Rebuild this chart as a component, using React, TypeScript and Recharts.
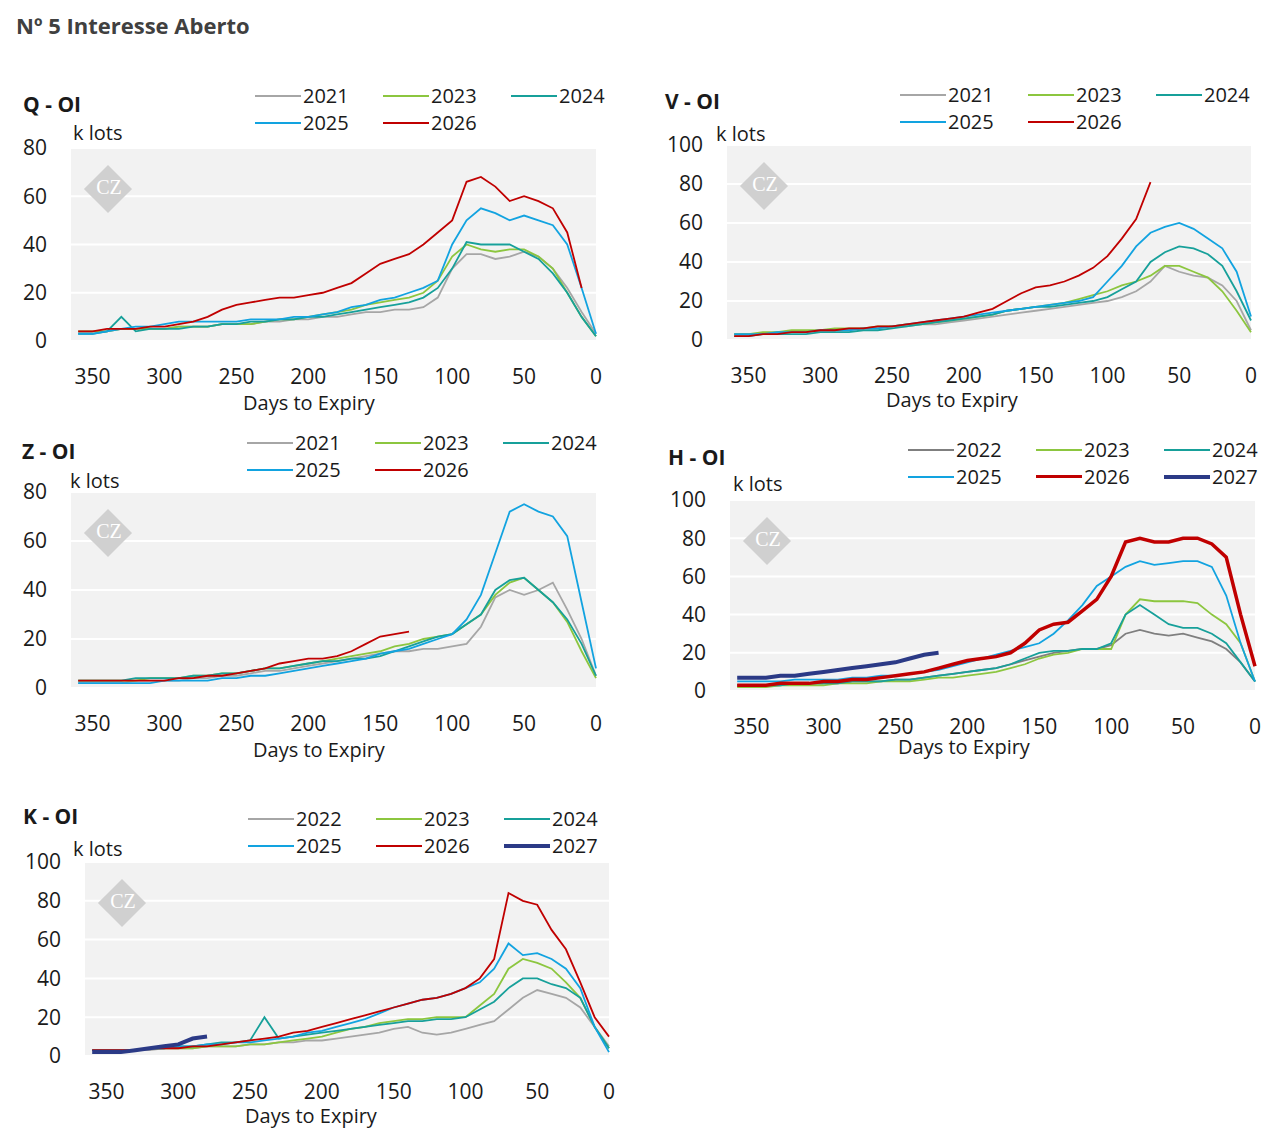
import React from 'react'
import { CartesianGrid, Line, LineChart, XAxis, YAxis } from 'recharts'

// days to expiry, shared by every series (step 10)
const DAYS = [360, 350, 340, 330, 320, 310, 300, 290, 280, 270, 260, 250, 240, 230, 220, 210, 200, 190, 180, 170, 160, 150, 140, 130, 120, 110, 100, 90, 80, 70, 60, 50, 40, 30, 20, 10, 0]
const X_TICKS = [350, 300, 250, 200, 150, 100, 50, 0]

type V = number | null
const _ = null

// Q - OI
const Q21: V[] = [4, 4, 4, 5, 5, 5, 5, 6, 6, 6, 7, 7, 7, 8, 8, 9, 9, 10, 10, 11, 12, 12, 13, 13, 14, 18, 30, 36, 36, 34, 35, 37, 35, 30, 22, 12, 3]
const Q23: V[] = [4, 4, 4, 5, 5, 5, 5, 6, 6, 6, 7, 7, 7, 8, 9, 9, 10, 11, 12, 13, 15, 16, 17, 18, 20, 25, 35, 40, 38, 37, 38, 38, 35, 30, 20, 10, 2]
const Q24: V[] = [3, 3, 4, 10, 4, 5, 5, 5, 6, 6, 7, 7, 8, 8, 9, 9, 10, 10, 11, 12, 13, 14, 15, 16, 18, 22, 30, 41, 40, 40, 40, 37, 34, 28, 20, 10, 2]
const Q25: V[] = [3, 3, 4, 5, 6, 6, 7, 8, 8, 8, 8, 8, 9, 9, 9, 10, 10, 11, 12, 14, 15, 17, 18, 20, 22, 25, 40, 50, 55, 53, 50, 52, 50, 48, 40, 22, 3]
const Q26: V[] = [4, 4, 5, 5, 5, 6, 6, 7, 8, 10, 13, 15, 16, 17, 18, 18, 19, 20, 22, 24, 28, 32, 34, 36, 40, 45, 50, 66, 68, 64, 58, 60, 58, 55, 45, 22, _]

// V - OI
const V21: V[] = [3, 3, 3, 4, 4, 4, 5, 5, 5, 6, 6, 7, 7, 8, 8, 9, 10, 11, 12, 13, 14, 15, 16, 17, 18, 19, 20, 22, 25, 30, 38, 35, 33, 32, 28, 20, 5]
const V23: V[] = [3, 3, 4, 4, 5, 5, 5, 6, 6, 6, 7, 7, 8, 8, 9, 10, 11, 12, 13, 15, 16, 17, 18, 19, 21, 23, 25, 28, 30, 33, 38, 38, 35, 32, 25, 15, 4]
const V24: V[] = [2, 2, 3, 3, 3, 3, 4, 4, 4, 5, 5, 6, 7, 8, 9, 10, 11, 12, 13, 15, 16, 17, 17, 18, 19, 20, 22, 26, 30, 40, 45, 48, 47, 44, 38, 25, 10]
const V25: V[] = [3, 3, 3, 4, 4, 4, 5, 5, 5, 6, 6, 7, 8, 9, 10, 11, 12, 13, 14, 15, 16, 17, 18, 19, 20, 22, 30, 38, 48, 55, 58, 60, 57, 52, 47, 35, 12]
const V26: V[] = [2, 2, 3, 3, 4, 4, 5, 5, 6, 6, 7, 7, 8, 9, 10, 11, 12, 14, 16, 20, 24, 27, 28, 30, 33, 37, 43, 52, 62, 81, _, _, _, _, _, _, _]

// Z - OI
const Z21: V[] = [2, 2, 2, 2, 3, 3, 3, 3, 4, 4, 5, 5, 6, 7, 7, 8, 9, 10, 11, 12, 13, 14, 15, 15, 16, 16, 17, 18, 25, 37, 40, 38, 40, 43, 32, 20, 5]
const Z23: V[] = [3, 3, 3, 3, 3, 4, 4, 4, 5, 5, 6, 6, 7, 8, 8, 9, 10, 11, 12, 13, 14, 15, 17, 18, 20, 21, 22, 26, 30, 38, 43, 45, 40, 35, 27, 15, 4]
const Z24: V[] = [3, 3, 3, 3, 4, 4, 4, 4, 5, 5, 6, 6, 7, 8, 8, 9, 10, 11, 11, 12, 12, 13, 15, 17, 19, 21, 22, 26, 30, 40, 44, 45, 40, 35, 28, 18, 5]
const Z25: V[] = [2, 2, 2, 2, 2, 2, 3, 3, 3, 3, 4, 4, 5, 5, 6, 7, 8, 9, 10, 11, 12, 14, 15, 16, 18, 20, 22, 28, 38, 55, 72, 75, 72, 70, 62, 35, 8]
const Z26: V[] = [3, 3, 3, 3, 3, 3, 3, 4, 4, 5, 5, 6, 7, 8, 10, 11, 12, 12, 13, 15, 18, 21, 22, 23, _, _, _, _, _, _, _, _, _, _, _, _, _]

// H - OI
const H22: V[] = [3, 3, 3, 3, 4, 4, 4, 4, 5, 5, 5, 6, 6, 7, 8, 9, 10, 11, 12, 14, 16, 18, 20, 21, 22, 22, 24, 30, 32, 30, 29, 30, 28, 26, 22, 15, 5]
const H23: V[] = [2, 2, 2, 3, 3, 3, 3, 4, 4, 4, 5, 5, 5, 6, 7, 7, 8, 9, 10, 12, 14, 17, 19, 20, 22, 22, 22, 40, 48, 47, 47, 47, 46, 40, 35, 25, 5]
const H24: V[] = [3, 3, 3, 3, 4, 4, 4, 4, 5, 5, 5, 6, 6, 7, 8, 9, 10, 11, 12, 14, 17, 20, 21, 21, 22, 22, 25, 40, 45, 40, 35, 33, 33, 30, 25, 15, 5]
const H25: V[] = [5, 5, 5, 5, 6, 6, 6, 6, 7, 7, 8, 8, 9, 10, 11, 13, 15, 17, 19, 21, 23, 25, 30, 37, 45, 55, 60, 65, 68, 66, 67, 68, 68, 65, 50, 25, 5]
const H26: V[] = [3, 3, 3, 4, 4, 4, 5, 5, 6, 6, 7, 8, 9, 10, 12, 14, 16, 17, 18, 20, 25, 32, 35, 36, 42, 48, 60, 78, 80, 78, 78, 80, 80, 77, 70, 40, 13]
const H27: V[] = [7, 7, 7, 8, 8, 9, 10, 11, 12, 13, 14, 15, 17, 19, 20, _, _, _, _, _, _, _, _, _, _, _, _, _, _, _, _, _, _, _, _, _, _]

// K - OI
const K22: V[] = [3, 3, 3, 3, 3, 4, 4, 4, 5, 5, 5, 6, 6, 7, 7, 8, 8, 9, 10, 11, 12, 14, 15, 12, 11, 12, 14, 16, 18, 24, 30, 34, 32, 30, 25, 15, 5]
const K23: V[] = [3, 3, 3, 3, 4, 4, 4, 4, 5, 5, 5, 6, 6, 7, 8, 9, 10, 12, 14, 15, 17, 18, 19, 19, 20, 20, 20, 26, 32, 45, 50, 48, 45, 38, 30, 15, 4]
const K24: V[] = [3, 3, 3, 3, 4, 4, 5, 5, 6, 7, 7, 8, 20, 9, 10, 11, 12, 13, 14, 15, 16, 17, 18, 18, 19, 19, 20, 24, 28, 35, 40, 40, 37, 35, 30, 15, 4]
const K25: V[] = [3, 3, 3, 3, 4, 4, 5, 5, 6, 6, 7, 7, 8, 9, 10, 12, 13, 15, 17, 19, 22, 25, 27, 29, 30, 32, 35, 38, 45, 58, 52, 53, 50, 45, 35, 15, 2]
const K26: V[] = [3, 3, 3, 3, 4, 4, 4, 5, 5, 6, 7, 8, 9, 10, 12, 13, 15, 17, 19, 21, 23, 25, 27, 29, 30, 32, 35, 40, 50, 84, 80, 78, 65, 55, 38, 20, 10]
const K27: V[] = [2, 2, 2, 3, 4, 5, 6, 9, 10, _, _, _, _, _, _, _, _, _, _, _, _, _, _, _, _, _, _, _, _, _, _, _, _, _, _, _, _]

const C = {
  gray: '#a6a6a6',
  dgray: '#7f7f7f',
  green: '#8cc63f',
  teal: '#17a09a',
  blue: '#12a3e0',
  red: '#c00000',
  navy: '#2b3a86',
}

type S = { name: string; values: V[]; color: string; width?: number }

const FONT = '"Open Sans", "Noto Sans", sans-serif'
const TXT = '#1a1a1a'

function Legend({ items, x, y }: { items: S[]; x: number; y: number }) {
  return (
    <>
      {items.map((s, i) => (
        <div
          key={s.name}
          style={{
            position: 'absolute',
            left: x + (i % 3) * 128,
            top: y + Math.floor(i / 3) * 27 - 13,
            display: 'flex',
            alignItems: 'center',
            fontSize: 20,
            color: TXT,
          }}
        >
          <div style={{ width: 46, height: s.width ?? 2, background: s.color }} />
          <span style={{ marginLeft: 2 }}>{s.name}</span>
        </div>
      ))}
    </>
  )
}

function Watermark({ x, y }: { x: number; y: number }) {
  return (
    <div style={{ position: 'absolute', left: x - 18, top: y - 18, width: 36, height: 36 }}>
      <div style={{ width: 34, height: 34, background: '#d0d0d0', transform: 'rotate(45deg)' }} />
      <div style={{ position: 'absolute', left: 0, top: 4, width: 36, textAlign: 'center', color: '#fff', fontFamily: 'serif', fontSize: 20 }}>
        CZ
      </div>
    </div>
  )
}

type PanelProps = {
  title: string
  series: S[]
  px: number
  py: number
  pw: number
  ph: number
  yMax: number
  titleX: number
  titleY: number
  kx: number
  ky: number
  lx: number
  ly: number
  dtx: number
  dty: number
}

function Panel(p: PanelProps) {
  const data = DAYS.map((d, i) => {
    const row: Record<string, number | null> = { d }
    p.series.forEach((s) => (row[s.name] = s.values[i]))
    return row
  })
  const yTicks = []
  for (let v = 0; v <= p.yMax; v += 20) yTicks.push(v)
  const YW = 75
  const TOP = 20
  return (
    <>
      <div style={{ position: 'absolute', left: p.titleX, top: p.titleY - 14, fontSize: 21, fontWeight: 700, color: TXT }}>{p.title}</div>
      <div style={{ position: 'absolute', left: p.kx, top: p.ky - 14, fontSize: 20, color: TXT }}>k lots</div>
      <Legend items={p.series} x={p.lx} y={p.ly} />
      <div style={{ position: 'absolute', left: p.px - YW, top: p.py - TOP }}>
        <LineChart width={p.pw + YW + 10} height={p.ph + TOP + 50} data={data} margin={{ top: TOP, right: 10, left: 0, bottom: 0 }}>
          <CartesianGrid vertical={false} stroke="#ffffff" strokeWidth={2} fill="#f2f2f2" />
          <XAxis
            dataKey="d"
            type="number"
            domain={[0, 365]}
            reversed
            ticks={X_TICKS}
            axisLine={false}
            tickLine={false}
            tickMargin={22}
            height={50}
            interval={0}
            tick={{ fontSize: 21, fill: TXT, fontFamily: FONT }}
          />
          <YAxis
            domain={[0, p.yMax]}
            ticks={yTicks}
            axisLine={false}
            tickLine={false}
            tickSize={0}
            tickMargin={24}
            width={YW}
            interval={0}
            tick={{ fontSize: 21, fill: TXT, fontFamily: FONT }}
          />
          {p.series.map((s) => (
            <Line
              key={s.name}
              dataKey={s.name}
              stroke={s.color}
              strokeWidth={s.width ?? 1.8}
              dot={false}
              isAnimationActive={false}
              type="linear"
            />
          ))}
        </LineChart>
      </div>
      <Watermark x={p.px + 38} y={p.py + 42} />
      <div style={{ position: 'absolute', left: p.dtx - 150, width: 300, top: p.dty - 14, textAlign: 'center', fontSize: 20, color: TXT }}>
        Days to Expiry
      </div>
    </>
  )
}

export default function App() {
  return (
    <div style={{ position: 'relative', width: 1274, height: 1147, fontFamily: FONT, background: '#fff', margin: -8 }}>
      <div style={{ position: 'absolute', left: 16, top: 10, fontSize: 22, fontWeight: 700, color: '#404040' }}>Nº 5 Interesse Aberto</div>
      <Panel
        title="Q - OI"
        series={[
          { name: '2021', values: Q21, color: C.gray },
          { name: '2023', values: Q23, color: C.green },
          { name: '2024', values: Q24, color: C.teal },
          { name: '2025', values: Q25, color: C.blue },
          { name: '2026', values: Q26, color: C.red },
        ]}
        px={71} py={148} pw={525} ph={193} yMax={80}
        titleX={23} titleY={104} kx={73} ky={133} lx={255} ly={95} dtx={309} dty={403}
      />
      <Panel
        title="V - OI"
        series={[
          { name: '2021', values: V21, color: C.gray },
          { name: '2023', values: V23, color: C.green },
          { name: '2024', values: V24, color: C.teal },
          { name: '2025', values: V25, color: C.blue },
          { name: '2026', values: V26, color: C.red },
        ]}
        px={727} py={145} pw={524} ph={195} yMax={100}
        titleX={665} titleY={101} kx={716} ky={134} lx={900} ly={94} dtx={952} dty={400}
      />
      <Panel
        title="Z - OI"
        series={[
          { name: '2021', values: Z21, color: C.gray },
          { name: '2023', values: Z23, color: C.green },
          { name: '2024', values: Z24, color: C.teal },
          { name: '2025', values: Z25, color: C.blue },
          { name: '2026', values: Z26, color: C.red },
        ]}
        px={71} py={492} pw={525} ph={196} yMax={80}
        titleX={22} titleY={451} kx={70} ky={481} lx={247} ly={442} dtx={319} dty={750}
      />
      <Panel
        title="H - OI"
        series={[
          { name: '2022', values: H22, color: C.dgray },
          { name: '2023', values: H23, color: C.green },
          { name: '2024', values: H24, color: C.teal },
          { name: '2025', values: H25, color: C.blue },
          { name: '2026', values: H26, color: C.red, width: 3.5 },
          { name: '2027', values: H27, color: C.navy, width: 4 },
        ]}
        px={730} py={500} pw={525} ph={191} yMax={100}
        titleX={668} titleY={457} kx={733} ky={484} lx={908} ly={449} dtx={964} dty={747}
      />
      <Panel
        title="K - OI"
        series={[
          { name: '2022', values: K22, color: C.gray },
          { name: '2023', values: K23, color: C.green },
          { name: '2024', values: K24, color: C.teal },
          { name: '2025', values: K25, color: C.blue },
          { name: '2026', values: K26, color: C.red },
          { name: '2027', values: K27, color: C.navy, width: 4 },
        ]}
        px={85} py={862} pw={524} ph={194} yMax={100}
        titleX={23} titleY={816} kx={73} ky={849} lx={248} ly={818} dtx={311} dty={1116}
      />
    </div>
  )
}
